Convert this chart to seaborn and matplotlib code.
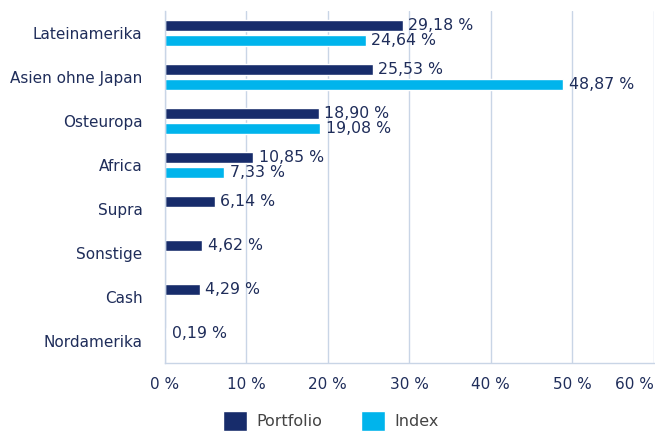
import matplotlib
matplotlib.use("Agg")
import matplotlib.pyplot as plt
import seaborn as sns
import pandas as pd
import numpy as np
from matplotlib.patches import Patch
from matplotlib.ticker import FixedLocator

categories = ["Lateinamerika", "Asien ohne Japan", "Osteuropa", "Africa", "Supra", "Sonstige", "Cash", "Nordamerika"]
portfolio = [29.18, 25.53, 18.90, 10.85, 6.14, 4.62, 4.29, 0.19]
index_vals = [24.64, 48.87, 19.08, 7.33, None, None, None, None]
series = ["Portfolio", "Index"]
xticks = [0, 10, 20, 30, 40, 50, 60]

rows = []
for c, p, i in zip(categories, portfolio, index_vals):
    rows.append({"cat": c, "series": "Portfolio", "val": p})
    if i is not None:
        rows.append({"cat": c, "series": "Index", "val": i})
df = pd.DataFrame(rows)

navy = "#172c6b"
cyan = "#00b4ec"
textc = "#1f2d5a"
gridc = "#c9d5e6"

sns.set_theme(style="white")
plt.rcParams['font.family'] = ['DejaVu Sans']

fig = plt.figure(figsize=(6.55, 4.32), dpi=100)
ax = fig.add_axes([0.2515, 0.160, 0.7466, 0.815])

sns.barplot(data=df, y="cat", x="val", hue="series", order=categories, hue_order=series,
            palette=[navy, cyan], width=0.66, gap=0.24, orient="h", ax=ax, legend=False,
            errorbar=None, saturation=1)

for cont in ax.containers:
    labs = [("%.2f %%" % v).replace(".", ",") for v in cont.datavalues]
    ax.bar_label(cont, labels=labs, padding=4, color=textc, fontsize=11.3)

ax.set_xlim(0, 60)
ax.set_ylim(len(categories) - 0.5, -0.5)
ax.set_xticks(xticks)
ax.set_xticklabels(["%d %%" % t for t in xticks], color=textc, fontsize=11)
ax.get_xticklabels()[-1].set_horizontalalignment("right")
ax.tick_params(axis="x", length=0, pad=10)
ax.tick_params(axis="y", which="major", length=0, pad=16, labelsize=11, labelcolor=textc)
ax.yaxis.set_minor_locator(FixedLocator(np.arange(-0.5, len(categories), 1.0)))
ax.tick_params(axis="y", which="minor", length=9, width=1, color=gridc)
ax.set_xlabel("")
ax.set_ylabel("")
ax.grid(axis="x", color=gridc, linewidth=1)
ax.set_axisbelow(True)
for s in ["top", "right"]:
    ax.spines[s].set_visible(False)
for s in ["left", "bottom"]:
    ax.spines[s].set_color(gridc)
    ax.spines[s].set_linewidth(1)

handles = [Patch(facecolor=navy, label="Portfolio"), Patch(facecolor=cyan, label="Index")]
leg = fig.legend(handles=handles, loc="lower center", bbox_to_anchor=(0.505, -0.03), ncol=2,
                 frameon=False, fontsize=11.5, handlelength=1.5, handleheight=1.5,
                 columnspacing=2.4, handletextpad=0.6)
for t in leg.get_texts():
    t.set_color("#444444")

fig.savefig("out.png", dpi=100)
